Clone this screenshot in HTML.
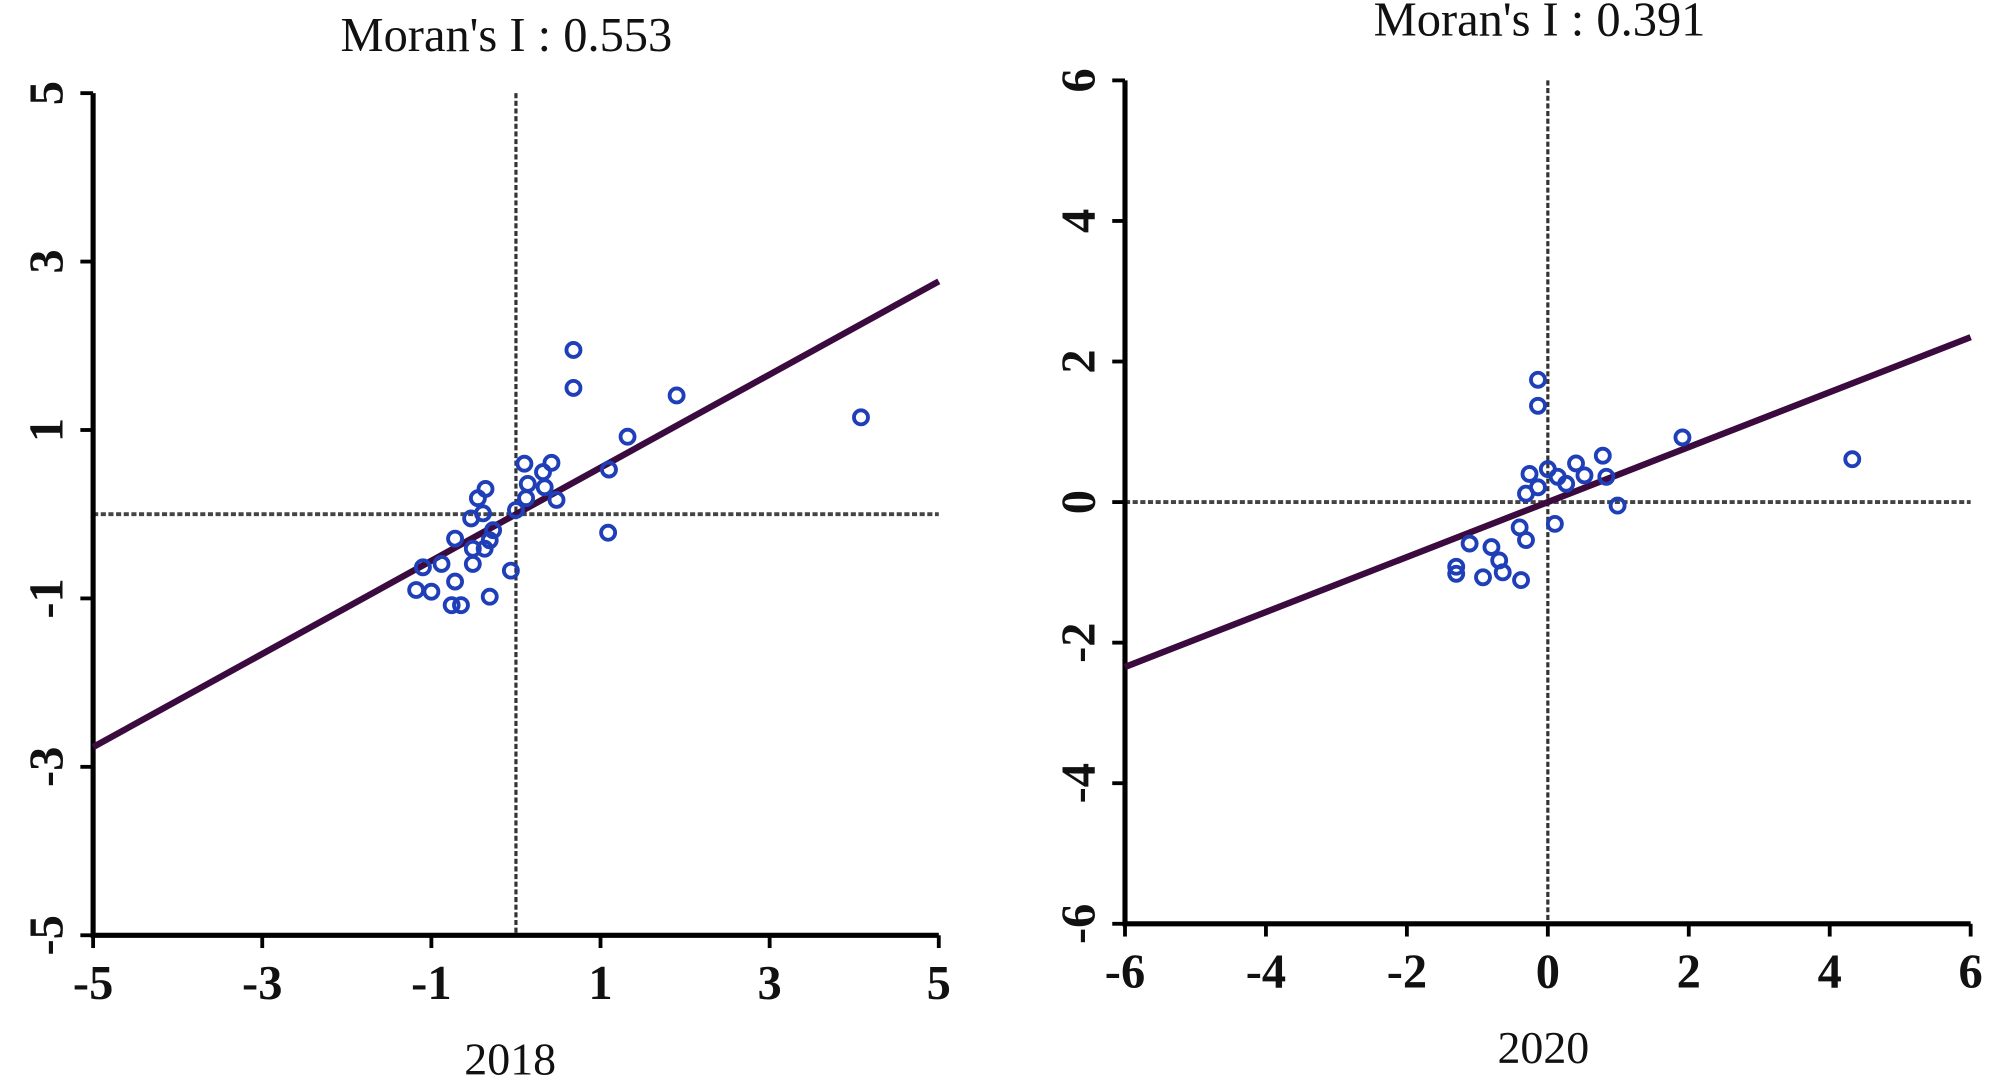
<!DOCTYPE html>
<html><head><meta charset="utf-8"><style>
html,body{margin:0;padding:0;background:#fff;}
svg{display:block;}
text{font-family:"Liberation Serif",serif;fill:#111;}
</style></head><body>
<svg id="chart" width="2000" height="1082" viewBox="0 0 1568 848" preserveAspectRatio="none" xmlns="http://www.w3.org/2000/svg"></svg>
<script>
// ---- data: 2018 panel ----
const x2018 = [0.68,0.68,1.90,1.32,1.10,0.42,0.10,0.32,0.14,0.34,0.48,0.12,1.09,-0.36,-0.45,-0.53,-0.39,-0.27,-0.72,-0.31,-0.51,-0.37,-0.51,-0.88,-1.10,-0.06,-0.72,-1.18,-1.00,-0.31,-0.76,-0.65,4.08,0.0];
const y2018 = [1.95,1.50,1.41,0.92,0.53,0.61,0.60,0.50,0.36,0.32,0.17,0.19,-0.22,0.30,0.19,-0.05,0.01,-0.19,-0.29,-0.31,-0.41,-0.41,-0.59,-0.59,-0.63,-0.67,-0.80,-0.90,-0.92,-0.98,-1.08,-1.08,1.15,0.05];
const ticks2018 = [-5,-3,-1,1,3,5];
const slope2018 = 0.553;
// ---- data: 2020 panel ----
const x2020 = [-0.14,-0.14,1.91,0.78,0.40,0.14,0,-0.26,-0.14,0.52,0.83,0.26,-0.31,0.99,0.10,-0.40,-0.31,-1.11,-0.80,-0.69,-1.30,-1.30,-0.92,-0.64,-0.38,4.32];
const y2020 = [1.74,1.37,0.92,0.66,0.55,0.36,0.47,0.40,0.21,0.38,0.36,0.26,0.12,-0.05,-0.31,-0.36,-0.54,-0.59,-0.64,-0.83,-0.92,-1.02,-1.07,-1.00,-1.11,0.61];
const ticks2020 = [-6,-4,-2,0,2,4,6];
const slope2020 = 0.391;

const NS="http://www.w3.org/2000/svg";
const svg=document.getElementById('chart');
function mk(tag,attrs,parent){const e=document.createElementNS(NS,tag);for(const k in attrs)e.setAttribute(k,attrs[k]);(parent||svg).appendChild(e);return e;}

function panel(cfg){
  const g=mk('g',{});
  
  
  const sx=v=>cfg.x0+(v-cfg.min)/(cfg.max-cfg.min)*(cfg.x1-cfg.x0);
  const sy=v=>cfg.y0-(v-cfg.min)/(cfg.max-cfg.min)*(cfg.y0-cfg.y1);
  const vl=mk('line',{x1:sx(0),x2:sx(0),y1:cfg.y1,y2:cfg.y0,stroke:'#333','stroke-width':2.5,'stroke-dasharray':'4,2'},g);
  
  
  const hl=mk('line',{x1:cfg.x0,x2:cfg.x1,y1:sy(0),y2:sy(0),stroke:'#444','stroke-width':3,'stroke-dasharray':'4,2'},g);
  
  
  const ax=mk('path',{d:`M${cfg.x0} ${cfg.y1} V${cfg.y0} H${cfg.x1}`,fill:'none',stroke:'#000','stroke-width':4},g);
  
  
  cfg.ticks.forEach(t=>{
    mk('line',{x1:sx(t),x2:sx(t),y1:cfg.y0,y2:cfg.y0+10,stroke:'#000','stroke-width':3},g);
    const tx=mk('text',{x:sx(t),y:cfg.y0+50,'font-size':38,'font-weight':'bold','text-anchor':'middle'},g);
    tx.textContent=t;
    
    
    mk('line',{x1:cfg.x0-10,x2:cfg.x0,y1:sy(t),y2:sy(t),stroke:'#000','stroke-width':3},g);
    const ty=mk('text',{x:0,y:0,'font-size':38,'font-weight':'bold','text-anchor':'middle',transform:`translate(${cfg.x0-24},${sy(t)}) rotate(-90)`},g);
    ty.textContent=t;
    
    
  });
  const rl=mk('line',{x1:sx(cfg.min),y1:sy(cfg.slope*cfg.min),x2:sx(cfg.max),y2:sy(cfg.slope*cfg.max),stroke:'#3b0b3f','stroke-width':5},g);
  
  
  cfg.xs.forEach((v,i)=>{
    const c=mk('circle',{cx:sx(v),cy:sy(cfg.ys[i]),r:5.5,fill:'none',stroke:'#1f3fb8','stroke-width':3},g);
    
    
  });
  const ti=mk('text',{x:cfg.tx,y:cfg.ty,'font-size':38,'text-anchor':'middle'},g);
  ti.textContent=cfg.title;
  
  
  const xl=mk('text',{x:cfg.lx,y:cfg.ly,'font-size':36,'text-anchor':'middle'},g);
  xl.textContent=cfg.label;
  
  
}
panel({name:'panel-2018',x0:73,x1:736,y0:733,y1:73,min:-5,max:5,ticks:ticks2018,xs:x2018,ys:y2018,slope:slope2018,title:"Moran's I : 0.553",tx:397,ty:40,label:'2018',lx:400,ly:842});
panel({name:'panel-2020',x0:882,x1:1545,y0:724,y1:63,min:-6,max:6,ticks:ticks2020,xs:x2020,ys:y2020,slope:slope2020,title:"Moran's I : 0.391",tx:1207,ty:28,label:'2020',lx:1210,ly:833});
</script>
</body></html>
